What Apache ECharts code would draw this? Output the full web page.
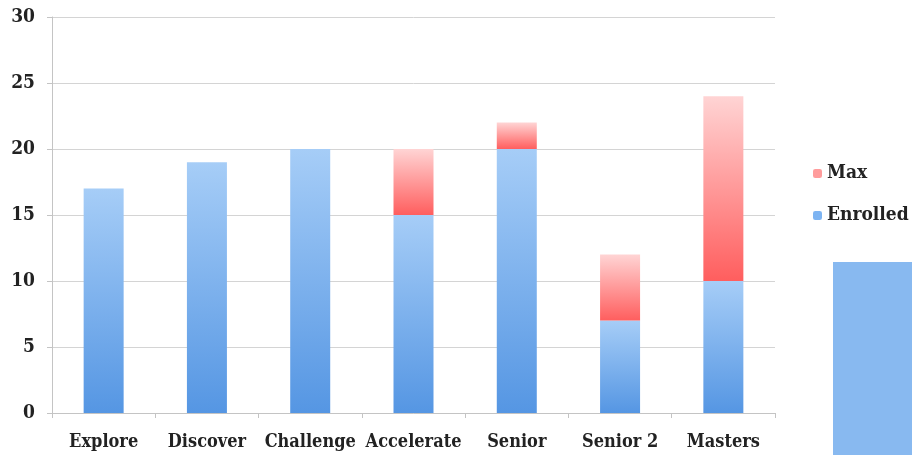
<!DOCTYPE html>
<html>
<head>
<meta charset="utf-8">
<script src="https://cdn.jsdelivr.net/npm/echarts@6/dist/echarts.min.js"></script>
<style>
  html, body { margin: 0; padding: 0; background: #ffffff; }
  #chart { width: 912px; height: 455px; }
</style>
</head>
<body>
<div id="chart"></div>
<script>
// Programme levels along the x axis
var levels = ['Explore', 'Discover', 'Challenge', 'Accelerate', 'Senior', 'Senior 2', 'Masters'];
// Students currently enrolled in each level
var enrolled = [17, 19, 20, 15, 20, 7, 10];
// Places still open up to each level's maximum
var openPlaces = [0, 0, 0, 5, 2, 5, 14];
// Value axis ticks
var yTicks = [0, 5, 10, 15, 20, 25, 30];

var labelFont = '"DejaVu Serif Condensed", "DejaVu Serif", serif';

function vGradient(top, bottom) {
  return {
    type: 'linear', x: 0, y: 0, x2: 0, y2: 1,
    colorStops: [{ offset: 0, color: top }, { offset: 1, color: bottom }]
  };
}

var chart = echarts.init(document.getElementById('chart'), null, { renderer: 'canvas' });

chart.setOption({
  animation: false,
  backgroundColor: '#ffffff',
  grid: { left: 52, right: 137, top: 17, bottom: 42, containLabel: false },
  legend: {
    orient: 'vertical',
    left: 808,
    top: 159,
    itemWidth: 9,
    itemHeight: 9,
    itemGap: 23,
    icon: 'roundRect',
    textStyle: { fontFamily: labelFont, fontWeight: 'bold', fontSize: 19, color: '#222222', padding: [0, 0, 0, 0] },
    data: [
      { name: 'Max', itemStyle: { color: '#ff9c9c' } },
      { name: 'Enrolled', itemStyle: { color: '#7db4f2' } }
    ]
  },
  xAxis: {
    type: 'category',
    data: levels,
    axisLine: { show: true, lineStyle: { color: '#c4c4c4', width: 1 } },
    axisTick: { show: true, length: 5, lineStyle: { color: '#c4c4c4' } },
    axisLabel: {
      margin: 20,
      fontFamily: labelFont, fontWeight: 'bold', fontSize: 18, color: '#222222',
      interval: 0
    }
  },
  yAxis: {
    type: 'value',
    min: yTicks[0],
    max: yTicks[yTicks.length - 1],
    interval: yTicks[1] - yTicks[0],
    axisLine: { show: true, lineStyle: { color: '#c4c4c4', width: 1 } },
    axisTick: { show: true, length: 5, lineStyle: { color: '#c4c4c4' } },
    splitLine: { show: true, lineStyle: { color: '#d4d4d4', width: 1 } },
    axisLabel: {
      margin: 17,
      fontFamily: labelFont, fontWeight: 'bold', fontSize: 19, color: '#222222'
    }
  },
  series: [
    {
      name: 'Enrolled',
      type: 'bar',
      stack: 'places',
      barWidth: 40,
      data: enrolled,
      itemStyle: { color: vGradient('#a6cdf7', '#5596e3') }
    },
    {
      name: 'Max',
      type: 'bar',
      stack: 'places',
      barWidth: 40,
      data: openPlaces,
      itemStyle: { color: vGradient('#ffd4d4', '#ff5e5e') }
    }
  ],
  graphic: [
    {
      type: 'rect',
      left: 833,
      top: 262,
      shape: { width: 79, height: 193 },
      style: { fill: '#88b9f0' },
      silent: true
    }
  ]
});
</script>
</body>
</html>
